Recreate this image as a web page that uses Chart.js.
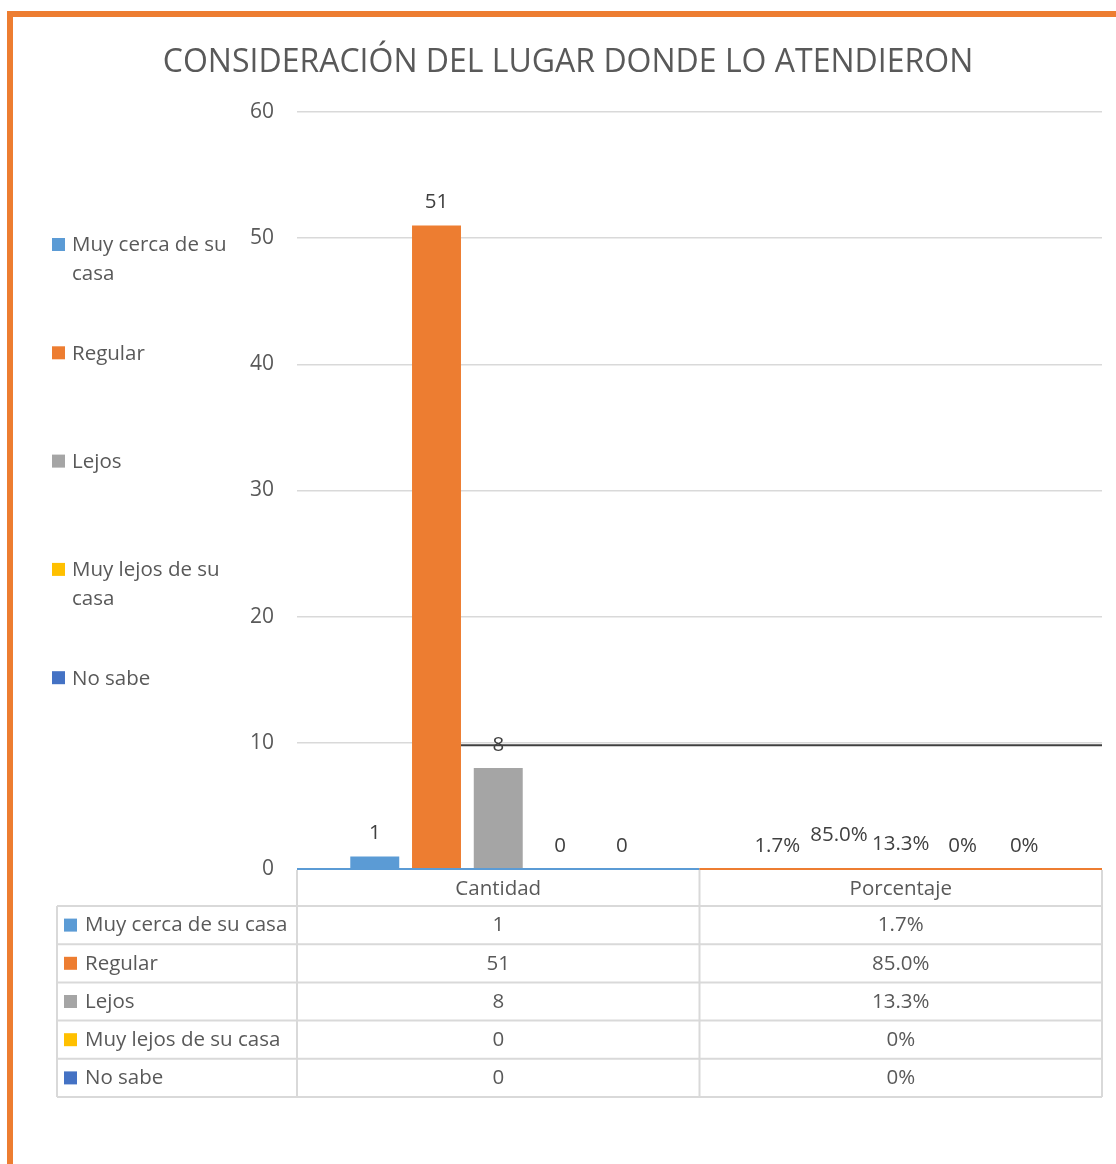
<!DOCTYPE html>
<html><head><meta charset="utf-8">
<script src="https://cdn.jsdelivr.net/npm/chart.js@4.4.0/dist/chart.umd.min.js"></script>
<style>html,body{margin:0;padding:0;background:#fff;}#wrap{position:relative;width:1116px;height:1164px;}</style>
</head><body><div id="wrap"><canvas id="c" width="1116" height="1164"></canvas></div>
<script>
// ---- data ----
const chartTitle = "CONSIDERACIÓN DEL LUGAR DONDE LO ATENDIERON";
const categories = ["Cantidad", "Porcentaje"];
const seriesNames = ["Muy cerca de su casa", "Regular", "Lejos", "Muy lejos de su casa", "No sabe"];
const cantidad = [1, 51, 8, 0, 0];
const cantidadText = ["1", "51", "8", "0", "0"];
const porcentaje = [0.017, 0.85, 0.133, 0, 0];
const porcentajeText = ["1.7%", "85.0%", "13.3%", "0%", "0%"];
const yMin = 0, yMax = 60, yStep = 10;
const overlayLineValue = 9.8;

// ---- style ----
const seriesColors = ["#5B9BD5", "#ED7D31", "#A5A5A5", "#FFC000", "#4472C4"];
const axisSegmentColors = ["#5B9BD5", "#ED7D31"];
const FONT = "'Open Sans', 'DejaVu Sans', sans-serif";
const TEXT = "#595959";
const GRID = "#D9D9D9";
const FRAME = "#ED7D31";

const valueTexts = [cantidadText, porcentajeText];

const datasets = seriesNames.map((name, i) => ({
  label: name,
  data: [cantidad[i], porcentaje[i]],
  backgroundColor: (ctx) => ctx.dataIndex === 1 ? 'rgba(0,0,0,0)' : seriesColors[i],
  borderWidth: 0,
  categoryPercentage: 0.767,
  barPercentage: 0.793
}));

const framePlugin = {
  id: 'frame',
  beforeDraw(chart) {
    const c = chart.ctx;
    c.save();
    c.fillStyle = '#fff';
    c.fillRect(0, 0, chart.width, chart.height);
    c.fillStyle = FRAME;
    c.fillRect(7, 11, chart.width - 7, 6);
    c.fillRect(7, 11, 6, chart.height - 11);
    c.restore();
  }
};

const extrasPlugin = {
  id: 'extras',
  afterDatasetsDraw(chart) {
    const c = chart.ctx;
    const xs = chart.scales.x, ys = chart.scales.y;
    const area = chart.chartArea;
    const catW = (area.right - area.left) / categories.length;
    c.save();
    // axis line segments
    const y0 = ys.getPixelForValue(0);
    categories.forEach((cat, k) => {
      const cx = xs.getPixelForValue(k);
      c.strokeStyle = axisSegmentColors[k];
      c.lineWidth = 2.2;
      c.beginPath();
      c.moveTo(cx - catW / 2, y0);
      c.lineTo(cx + catW / 2, y0);
      c.stroke();
    });
    // overlay black line starting at right edge of the tallest bar
    const barEl = chart.getDatasetMeta(1).data[0];
    const yl = ys.getPixelForValue(overlayLineValue);
    c.strokeStyle = '#404040';
    c.lineWidth = 2;
    c.beginPath();
    c.moveTo(barEl.x + barEl.width / 2, yl);
    c.lineTo(area.right, yl);
    c.stroke();
    // data labels
    c.fillStyle = '#404040';
    c.font = "20.5px " + FONT;
    c.textAlign = 'center';
    c.textBaseline = 'middle';
    seriesNames.forEach((n, i) => {
      const meta = chart.getDatasetMeta(i);
      meta.data.forEach((el, k) => {
        c.fillText(valueTexts[k][i], el.x, el.y - 23);
      });
    });
    c.restore();
  },
  afterDraw(chart) {
    const c = chart.ctx;
    const xs = chart.scales.x;
    const area = chart.chartArea;
    const catW = (area.right - area.left) / categories.length;
    c.save();
    // legend
    c.font = "20.5px " + FONT;
    c.textAlign = 'left';
    c.textBaseline = 'middle';
    const legTop = 245.5, legGap = 108.3, lineH = 29, wrapW = 172;
    seriesNames.forEach((name, i) => {
      const y = legTop + i * legGap;
      c.fillStyle = seriesColors[i];
      c.fillRect(52, y - 7.5, 13, 13);
      c.fillStyle = TEXT;
      const words = name.split(' ');
      const lines = [];
      let cur = '';
      words.forEach(w => {
        const t = cur ? cur + ' ' + w : w;
        if (c.measureText(t).width > wrapW && cur) { lines.push(cur); cur = w; }
        else cur = t;
      });
      lines.push(cur);
      lines.forEach((ln, j) => c.fillText(ln, 72, y + j * lineH));
    });
    // data table
    const tLeft = 57;
    const headTop = area.bottom;
    const headH = 37;
    const rowH = 38.2;
    const bottom = headTop + headH + rowH * seriesNames.length;
    c.strokeStyle = GRID;
    c.lineWidth = 2;
    c.beginPath();
    const vx = [area.left];
    categories.forEach((cat, k) => vx.push(xs.getPixelForValue(k) + catW / 2));
    vx.forEach(x => { c.moveTo(x, headTop + 1); c.lineTo(x, bottom); });
    c.moveTo(tLeft, headTop + headH); c.lineTo(tLeft, bottom);
    for (let r = 0; r <= seriesNames.length; r++) {
      const y = headTop + headH + r * rowH;
      c.moveTo(tLeft, y); c.lineTo(area.right, y);
    }
    c.stroke();
    c.fillStyle = TEXT;
    c.textAlign = 'center';
    categories.forEach((cat, k) => {
      c.fillText(cat, xs.getPixelForValue(k), headTop + headH / 2 + 1.5);
    });
    seriesNames.forEach((name, i) => {
      const cy = headTop + headH + i * rowH + rowH / 2 + 0.5;
      c.fillStyle = seriesColors[i];
      c.fillRect(64, cy - 7, 13, 13);
      c.fillStyle = TEXT;
      c.textAlign = 'left';
      c.fillText(name, 85, cy);
      c.textAlign = 'center';
      c.fillText(cantidadText[i], xs.getPixelForValue(0), cy);
      c.fillText(porcentajeText[i], xs.getPixelForValue(1), cy);
    });
    c.restore();
  }
};

new Chart(document.getElementById('c'), {
  type: 'bar',
  data: { labels: categories, datasets },
  options: {
    responsive: false,
    animation: false,
    devicePixelRatio: 1,
    layout: { padding: { left: 34, right: 14, top: 0, bottom: 295 } },
    plugins: {
      legend: { display: false },
      tooltip: { enabled: false },
      title: {
        display: true,
        text: chartTitle,
        color: TEXT,
        font: { family: FONT, size: 32, weight: 'normal' },
        padding: { top: 44, bottom: 29.6 }
      }
    },
    scales: {
      x: { display: false },
      y: {
        min: yMin, max: yMax,
        afterFit: (s) => { s.width = 263; },
        ticks: { stepSize: yStep, color: TEXT, font: { family: FONT, size: 21 }, padding: 23 },
        grid: { color: GRID, lineWidth: 1.5, drawTicks: false },
        border: { display: false }
      }
    }
  },
  plugins: [framePlugin, extrasPlugin]
});
</script></body></html>
